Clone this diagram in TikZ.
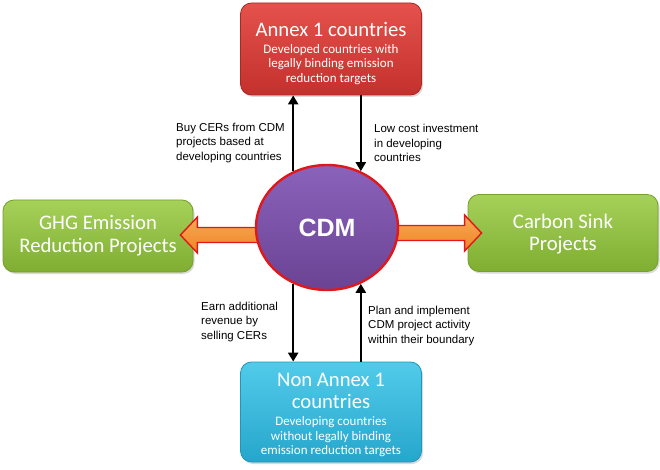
\documentclass[tikz,border=0pt]{standalone}
\usepackage{fontspec}
\setmainfont{Carlito}
\newfontfamily\arialf{Liberation Sans}
\usetikzlibrary{arrows.meta,shadows,calc,shapes.geometric}
\definecolor{redtop}{HTML}{E5524C}
\definecolor{redbot}{HTML}{C4302C}
\definecolor{redline}{HTML}{A82824}
\definecolor{greentop}{HTML}{A6D159}
\definecolor{greenbot}{HTML}{7FAE32}
\definecolor{greenline}{HTML}{739F2B}
\definecolor{cyantop}{HTML}{52CBEA}
\definecolor{cyanbot}{HTML}{26A6CC}
\definecolor{cyanline}{HTML}{2096BA}
\definecolor{purtop}{HTML}{8A62BA}
\definecolor{purbot}{HTML}{6A4394}
\definecolor{ringred}{HTML}{E0181C}
\definecolor{orangetop}{HTML}{F8AA55}
\definecolor{orangebot}{HTML}{EE8424}
\newcommand{\ttlsize}{\fontsize{20.7}{22}\selectfont}
\begin{document}
\begin{tikzpicture}[x=1pt,y=-1pt,
  box/.style={rectangle, rounded corners=11pt, text=white, align=center,
    inner sep=0pt, line width=0.8pt,
    drop shadow={opacity=0.3, shadow xshift=1.5pt, shadow yshift=-2pt}},
  redbox/.style={box, draw=redline, top color=redtop, bottom color=redbot},
  greenbox/.style={box, draw=greenline, top color=greentop, bottom color=greenbot},
  cyanbox/.style={box, draw=cyanline, top color=cyantop, bottom color=cyanbot},
  subf/.style={font=\fontsize{13}{14.5}\selectfont},
  thinarrow/.style={line width=2.2pt, -{Triangle[length=9pt,width=10pt]}},
  lab/.style={anchor=west, align=left, font=\arialf\fontsize{11.5}{14.5}\selectfont, text=black, inner sep=0pt},
  fat/.style={draw=ringred, line width=1.4pt, line join=miter, top color=orangetop, bottom color=orangebot}
]
\useasboundingbox (0,0) rectangle (660,470);

% boxes
\node[redbox, minimum width=181pt, minimum height=92pt] (annex) at (331,49) {};
\node[cyanbox, minimum width=181pt, minimum height=100pt] (nonannex) at (331,412) {};
\node[greenbox, minimum width=190pt, minimum height=72pt] (ghg) at (98,236) {};
\node[greenbox, minimum width=190pt, minimum height=77pt] (sink) at (563,233) {};

% box texts
\node[text=white, font=\ttlsize, inner sep=0pt] (annexT) at (331,29) {Annex 1 countries};
\node[text=white, subf, align=center, inner sep=0pt] (annexS) at (331,64.5)
  {Developed countries with\\legally binding emission\\reduction targets};
\node[text=white, font=\ttlsize, align=center, inner sep=0pt] (nonT) at (331,391)
  {Non Annex 1\\countries};
\node[text=white, subf, align=center, inner sep=0pt] (nonS) at (331,437)
  {Developing countries\\without legally binding\\emission reduction targets};
\node[text=white, font=\fontsize{20.7}{23}\selectfont, align=center, inner sep=0pt] (ghgT) at (ghg)
  {GHG Emission\\Reduction Projects};
\node[text=white, font=\fontsize{20.7}{22}\selectfont, align=center, inner sep=0pt] (sinkT) at (563,234)
  {Carbon Sink\\Projects};

% fat arrows (tails hidden behind the CDM ellipse)
\coordinate (lt) at ($(ghg.east)+(-13,-1)$);
\coordinate (rt) at ($(sink.west)+(14,0)$);
\path[fat] (lt) -- ++(17,-18) -- ++(0,10.5) -- ++(125,0) -- ++(0,15) -- ++(-125,0) -- ++(0,10.5) -- cycle;
\path[fat] (rt) -- ++(-17,-18) -- ++(0,10.5) -- ++(-125,0) -- ++(0,15) -- ++(125,0) -- ++(0,10.5) -- cycle;

% CDM ellipse
\node[ellipse, minimum width=142pt, minimum height=125pt, inner sep=0pt,
  draw=ringred, line width=2.4pt, top color=purtop, bottom color=purbot,
  text=white, font=\arialf\bfseries\fontsize{25}{28}\selectfont] (cdm) at (327,227.5) {CDM};

% thin arrows
\draw[thinarrow] (cdm.121.8) -- (cdm.121.8 |- annex.south);
\draw[thinarrow] (annex.south -| cdm.59.2) -- (cdm.59.2);
\draw[thinarrow] (cdm.-121.8) -- (cdm.-121.8 |- nonannex.north);
\draw[thinarrow] (nonannex.north -| cdm.-59.2) -- (cdm.-59.2);

% labels
\node[lab] (buy) at (176,143) {Buy CERs from CDM\\projects based at\\developing countries};
\node[lab] (low) at (374,143) {Low cost investment\\in developing\\countries};
\node[lab] (earn) at (201,322) {Earn additional\\revenue by\\selling CERs};
\node[lab] (plan) at (368,326) {Plan and implement\\CDM project activity\\within their boundary};
\end{tikzpicture}
\end{document}
